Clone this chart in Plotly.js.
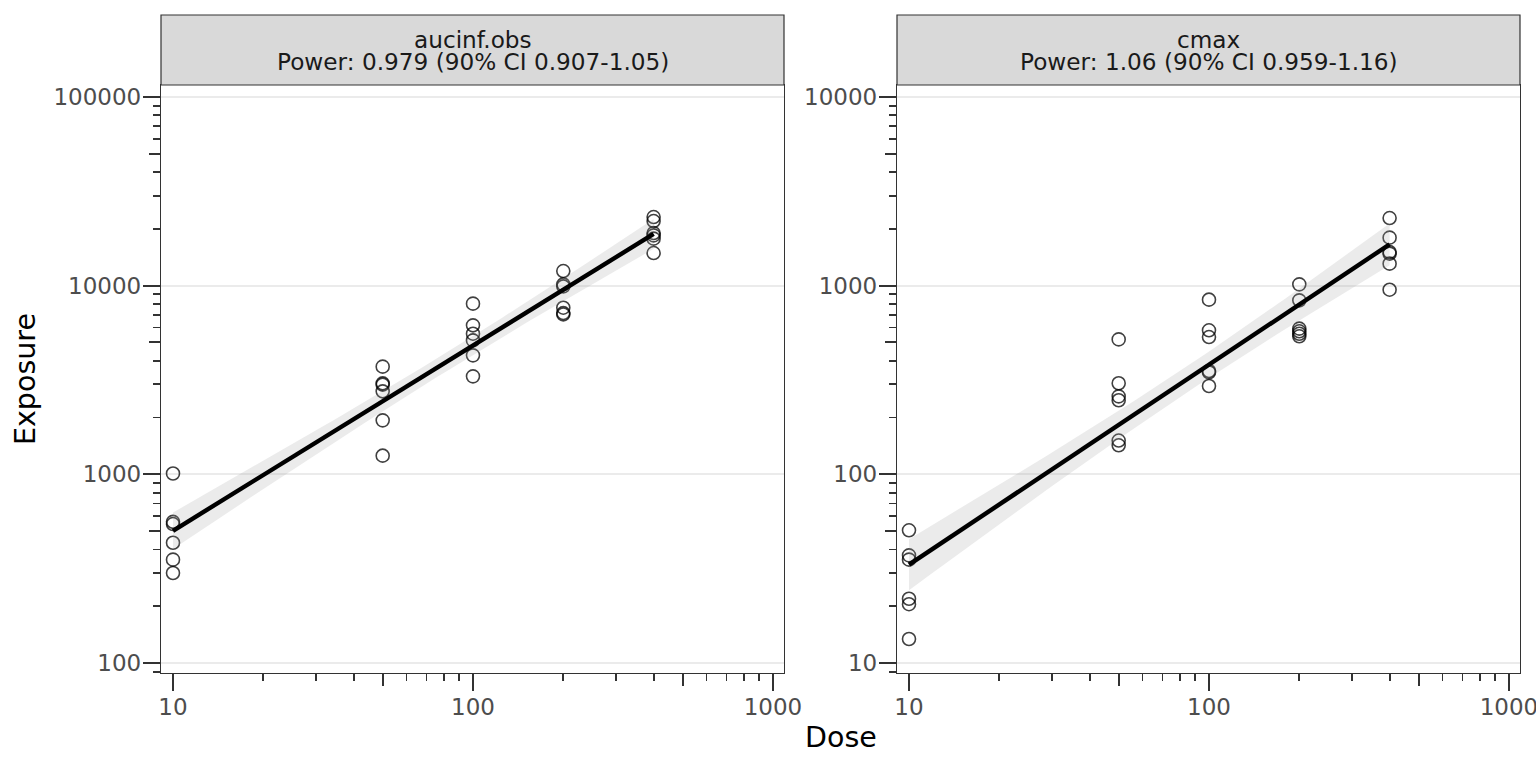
<!DOCTYPE html>
<html>
<head>
<meta charset="utf-8">
<script src="https://cdn.plot.ly/plotly-3.0.1.min.js"></script>
<style>html,body{margin:0;padding:0;background:#fff;}#chart{width:1536px;height:768px;}</style>
</head>
<body>
<div id="chart"></div>
<script>
// ---- data ----
const panelNames = ['aucinf.obs', 'cmax'];
const powerLabels = ['Power: 0.979 (90% CI 0.907-1.05)', 'Power: 1.06 (90% CI 0.959-1.16)'];
const dose = [10,10,10,10,10,10, 50,50,50,50,50,50, 100,100,100,100,100,100, 200,200,200,200,200,200, 400,400,400,400,400,400];
const aucinfObs = [1010,560,545,434,353,300, 3722,3036,2987,2754,1932,1256, 8031,6163,5564,5128,4272,3306, 11950,10160,9910,7643,7160,7040, 23100,22000,19000,18480,17750,14890];
const cmax = [50.5,37.2,35.3,21.9,20.5,13.4, 519,304,259,247,151,142.5, 843,580,534,353,347,294, 1016,836,592,573,556,539, 2282,1797,1507,1478,1308,952];
const xTicks = [10, 100, 1000];
const yTicksLeft = [100, 1000, 10000, 100000];
const yTicksRight = [10, 100, 1000, 10000];
const tCrit = 2.048; // qt(0.975, df = 28)

// ---- log-log linear fit with 95% confidence band ----
function fit(xs, ys) {
  const lx = xs.map(Math.log10), ly = ys.map(Math.log10);
  const n = lx.length;
  const mx = lx.reduce((a, b) => a + b, 0) / n;
  const my = ly.reduce((a, b) => a + b, 0) / n;
  let sxx = 0, sxy = 0;
  for (let i = 0; i < n; i++) { sxx += (lx[i] - mx) ** 2; sxy += (lx[i] - mx) * (ly[i] - my); }
  const b = sxy / sxx, a = my - b * mx;
  let sse = 0;
  for (let i = 0; i < n; i++) sse += (ly[i] - a - b * lx[i]) ** 2;
  const s = Math.sqrt(sse / (n - 2));
  const lo = Math.min(...lx), hi = Math.max(...lx);
  const gx = [], gy = [], up = [], dn = [];
  const N = 60;
  for (let k = 0; k <= N; k++) {
    const x0 = lo + (hi - lo) * k / N;
    const yh = a + b * x0;
    const se = s * Math.sqrt(1 / n + (x0 - mx) ** 2 / sxx);
    gx.push(Math.pow(10, x0)); gy.push(Math.pow(10, yh));
    up.push(Math.pow(10, yh + tCrit * se)); dn.push(Math.pow(10, yh - tCrit * se));
  }
  return {gx, gy, up, dn};
}

function minorVals(lo, hi, mults) {
  const out = [];
  for (let d = lo; d <= hi; d++) for (const m of mults) out.push(m * Math.pow(10, d));
  return out;
}

const font = 'DejaVu Sans, Arial, sans-serif';
const tickFont = {family: font, size: 23, color: '#4d4d4d'};
const traces = [];
const series = [aucinfObs, cmax];
const axSuffix = [['x', 'y'], ['x2', 'y2']];
series.forEach((ys, i) => {
  const [xa, ya] = axSuffix[i];
  const f = fit(dose, ys);
  traces.push({type: 'scatter', mode: 'markers', x: dose, y: ys, xaxis: xa, yaxis: ya,
    marker: {symbol: 'circle-open', size: 13, color: 'rgba(0,0,0,0.75)', line: {width: 1.6, color: 'rgba(0,0,0,0.75)'}},
    hoverinfo: 'x+y', showlegend: false});
  traces.push({type: 'scatter', mode: 'lines', x: f.gx.concat(f.gx.slice().reverse()), y: f.up.concat(f.dn.slice().reverse()),
    xaxis: xa, yaxis: ya, fill: 'toself', fillcolor: 'rgba(153,153,153,0.2)', line: {width: 0}, hoverinfo: 'skip', showlegend: false});
  traces.push({type: 'scatter', mode: 'lines', x: f.gx, y: f.gy, xaxis: xa, yaxis: ya,
    line: {color: '#000', width: 4.4}, hoverinfo: 'skip', showlegend: false});
});
// empty traces to carry the overlay axes used for the mid-length "5" log ticks
traces.push({type: 'scatter', x: [], y: [], xaxis: 'x3', yaxis: 'y3', showlegend: false, hoverinfo: 'skip'});
traces.push({type: 'scatter', x: [], y: [], xaxis: 'x4', yaxis: 'y4', showlegend: false, hoverinfo: 'skip'});

const W = 1536, H = 768;
const px = v => v / W, py = v => 1 - v / H;
const panels = [[161, 784], [897, 1520]];
const yDom = [py(673), py(85)];
const xRange = [0.96, 3.0367];
const yRanges = [[1.947, 5.0636], [0.947, 4.0636]];

function xAxis(i) {
  return {domain: [px(panels[i][0]), px(panels[i][1])], anchor: i ? 'y2' : 'y', type: 'log', range: xRange,
    tickmode: 'array', tickvals: xTicks, ticktext: xTicks.map(String), ticks: 'outside', ticklen: 17, tickwidth: 2.2,
    tickcolor: '#333333', tickfont: tickFont, ticklabeloverflow: 'allow', ticklabelstandoff: -4,
    showline: true, mirror: true, linecolor: '#333333', linewidth: 1.2,
    showgrid: false, zeroline: false, fixedrange: true,
    minor: {tickmode: 'array', tickvals: minorVals(1, 2, [2, 3, 4, 6, 7, 8, 9]), ticks: 'outside', ticklen: 7, tickwidth: 1.8, tickcolor: '#333333', showgrid: false}};
}
function yAxis(i) {
  const ticks = i ? yTicksRight : yTicksLeft;
  const d0 = Math.log10(ticks[0]);
  return {domain: yDom, anchor: i ? 'x2' : 'x', type: 'log', range: yRanges[i],
    tickmode: 'array', tickvals: ticks, ticktext: ticks.map(String), ticks: 'outside', ticklen: 17, tickwidth: 2.2,
    tickcolor: '#333333', tickfont: tickFont, ticklabeloverflow: 'allow', ticklabelstandoff: -3,
    showline: true, mirror: true, linecolor: '#333333', linewidth: 1.2,
    showgrid: true, gridcolor: '#ebebeb', gridwidth: 2, zeroline: false, fixedrange: true,
    minor: {tickmode: 'array', tickvals: minorVals(d0 - 1, d0 + 3, [2, 3, 4, 6, 7, 8, 9]), ticks: 'outside', ticklen: 7, tickwidth: 1.8, tickcolor: '#333333', showgrid: false}};
}
function xMid(i) {
  return {overlaying: i ? 'x2' : 'x', anchor: i ? 'y4' : 'y3', type: 'log', range: xRange, tickmode: 'array', tickvals: [50, 500],
    ticks: 'outside', ticklen: 11.5, tickwidth: 2, tickcolor: '#333333', showticklabels: false, showline: false, showgrid: false, zeroline: false, fixedrange: true};
}
function yMid(i) {
  const ticks = i ? yTicksRight : yTicksLeft;
  return {overlaying: i ? 'y2' : 'y', anchor: i ? 'x4' : 'x3', side: 'left', type: 'log', range: yRanges[i], tickmode: 'array',
    tickvals: ticks.map(t => t * 5), ticks: 'outside', ticklen: 11.5, tickwidth: 2, tickcolor: '#333333', showticklabels: false,
    showline: false, showgrid: false, zeroline: false, fixedrange: true};
}

const shapes = [], annotations = [];
panels.forEach((p, i) => {
  shapes.push({type: 'rect', xref: 'paper', yref: 'paper', x0: px(p[0]), x1: px(p[1]), y0: py(85), y1: py(15),
    fillcolor: '#d9d9d9', line: {color: '#333333', width: 1.2}, layer: 'above'});
  const cx = px((p[0] + p[1]) / 2);
  annotations.push({xref: 'paper', yref: 'paper', x: cx, y: py(39), text: panelNames[i], showarrow: false,
    xanchor: 'center', yanchor: 'middle', font: {family: font, size: 23.2, color: '#1a1a1a'}});
  annotations.push({xref: 'paper', yref: 'paper', x: cx, y: py(62), text: powerLabels[i], showarrow: false,
    xanchor: 'center', yanchor: 'middle', font: {family: font, size: 23.2, color: '#1a1a1a'}});
});
annotations.push({xref: 'paper', yref: 'paper', x: px(841), y: py(737), text: 'Dose', showarrow: false,
  xanchor: 'center', yanchor: 'middle', font: {family: font, size: 28.5, color: '#000'}});
annotations.push({xref: 'paper', yref: 'paper', x: px(26), y: py(379), text: 'Exposure', showarrow: false, textangle: -90,
  xanchor: 'center', yanchor: 'middle', font: {family: font, size: 28.5, color: '#000'}});

const layout = {
  width: W, height: H, autosize: false, margin: {l: 0, r: 0, t: 0, b: 0, pad: 0},
  paper_bgcolor: '#fff', plot_bgcolor: '#fff', showlegend: false,
  xaxis: xAxis(0), yaxis: yAxis(0), xaxis2: xAxis(1), yaxis2: yAxis(1),
  xaxis3: xMid(0), yaxis3: yMid(0), xaxis4: xMid(1), yaxis4: yMid(1),
  shapes, annotations
};
Plotly.newPlot('chart', traces, layout, {staticPlot: true, displayModeBar: false});
</script>
</body>
</html>
